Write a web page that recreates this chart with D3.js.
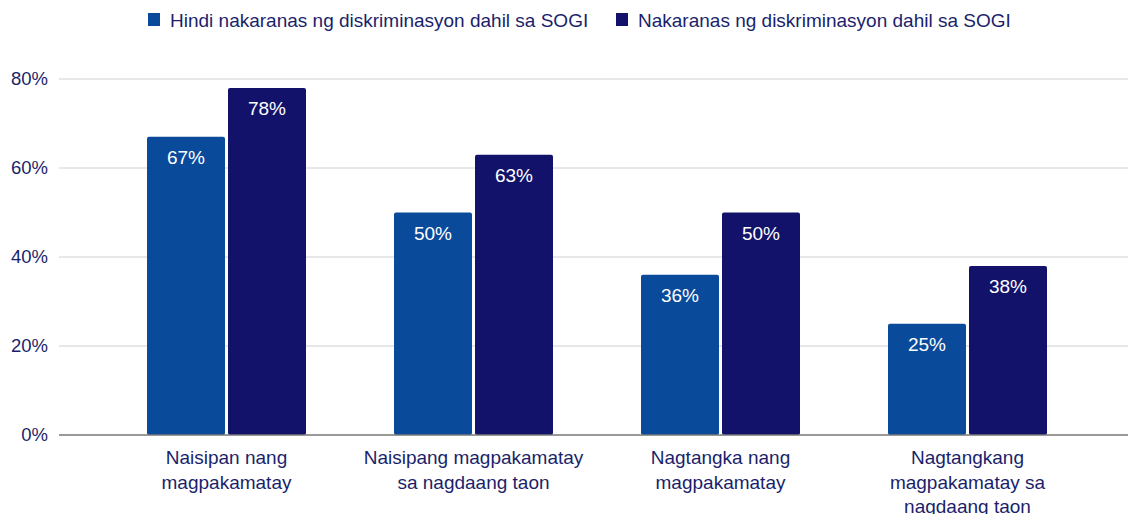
<!DOCTYPE html>
<html>
<head>
<meta charset="utf-8">
<script src="https://cdn.jsdelivr.net/npm/d3@7"></script>
<style>
  body { margin: 0; background: #fff; }
  svg { display: block; font-family: "Liberation Sans", Arial, sans-serif; }
</style>
</head>
<body>
<svg id="chart" width="1128" height="514"></svg>
<script>
// data
const categories = [
  ["Naisipan nang", "magpakamatay"],
  ["Naisipang magpakamatay", "sa nagdaang taon"],
  ["Nagtangka nang", "magpakamatay"],
  ["Nagtangkang", "magpakamatay sa", "nagdaang taon"]
];
const seriesNames = [
  "Hindi nakaranas ng diskriminasyon dahil sa SOGI",
  "Nakaranas ng diskriminasyon dahil sa SOGI"
];
const notDiscriminated = [67, 50, 36, 25];
const discriminated = [78, 63, 50, 38];
const yTicks = [0, 20, 40, 60, 80];
const colors = ["#0a4a9b", "#12126a"];
const textColor = "#1b1f6b";

const svg = d3.select("#chart");
const plotTop = 79, plotBottom = 435, plotLeft = 59, plotRight = 1128;

const x = d3.scaleBand()
  .domain(d3.range(categories.length))
  .range([103, 1091])
  .padding(0);

const y = d3.scaleLinear()
  .domain([0, 80])
  .range([plotBottom, plotTop]);

const barW = 78, gap = 3;

// gridlines
svg.append("g")
  .selectAll("line")
  .data(yTicks.filter(d => d > 0))
  .enter()
  .append("line")
  .attr("x1", plotLeft).attr("x2", plotRight)
  .attr("y1", d => y(d)).attr("y2", d => y(d))
  .attr("stroke", "#d0d0d0")
  .attr("stroke-width", 1);

// y axis labels
svg.append("g")
  .selectAll("text")
  .data(yTicks)
  .enter()
  .append("text")
  .attr("x", 48)
  .attr("y", d => y(d))
  .attr("dy", "0.35em")
  .attr("text-anchor", "end")
  .attr("font-size", 18.5)
  .attr("fill", textColor)
  .text(d => d + "%");

// bars
const series = [notDiscriminated, discriminated];
series.forEach((vals, si) => {
  const bx = i => x(i) + x.bandwidth() / 2 + (si === 0 ? -barW - gap / 2 : gap / 2);
  svg.append("g")
    .selectAll("rect")
    .data(vals)
    .enter()
    .append("rect")
    .attr("x", (d, i) => bx(i))
    .attr("y", d => y(d))
    .attr("width", barW)
    .attr("height", d => plotBottom - y(d))
    .attr("rx", 2)
    .attr("fill", colors[si]);

  svg.append("g")
    .selectAll("text")
    .data(vals)
    .enter()
    .append("text")
    .attr("x", (d, i) => bx(i) + barW / 2)
    .attr("y", d => y(d) + 27)
    .attr("text-anchor", "middle")
    .attr("font-size", 19)
    .attr("fill", "#fff")
    .text(d => d + "%");
});

// baseline
svg.append("line")
  .attr("x1", plotLeft).attr("x2", plotRight)
  .attr("y1", plotBottom).attr("y2", plotBottom)
  .attr("stroke", "#777")
  .attr("stroke-width", 1.5);

// category labels
categories.forEach((lines, i) => {
  const t = svg.append("text")
    .attr("text-anchor", "middle")
    .attr("font-size", 19)
    .attr("fill", textColor);
  lines.forEach((ln, j) => {
    t.append("tspan")
      .attr("x", x(i) + x.bandwidth() / 2)
      .attr("y", 464 + j * 24.5)
      .text(ln);
  });
});

// legend
const legendX = [148, 616];
seriesNames.forEach((name, i) => {
  svg.append("rect")
    .attr("x", legendX[i]).attr("y", 13)
    .attr("width", 12).attr("height", 13)
    .attr("fill", colors[i]);
  svg.append("text")
    .attr("x", legendX[i] + 22)
    .attr("y", 20)
    .attr("dy", "0.35em")
    .attr("font-size", 19)
    .attr("fill", textColor)
    .text(name);
});
</script>
</body>
</html>
